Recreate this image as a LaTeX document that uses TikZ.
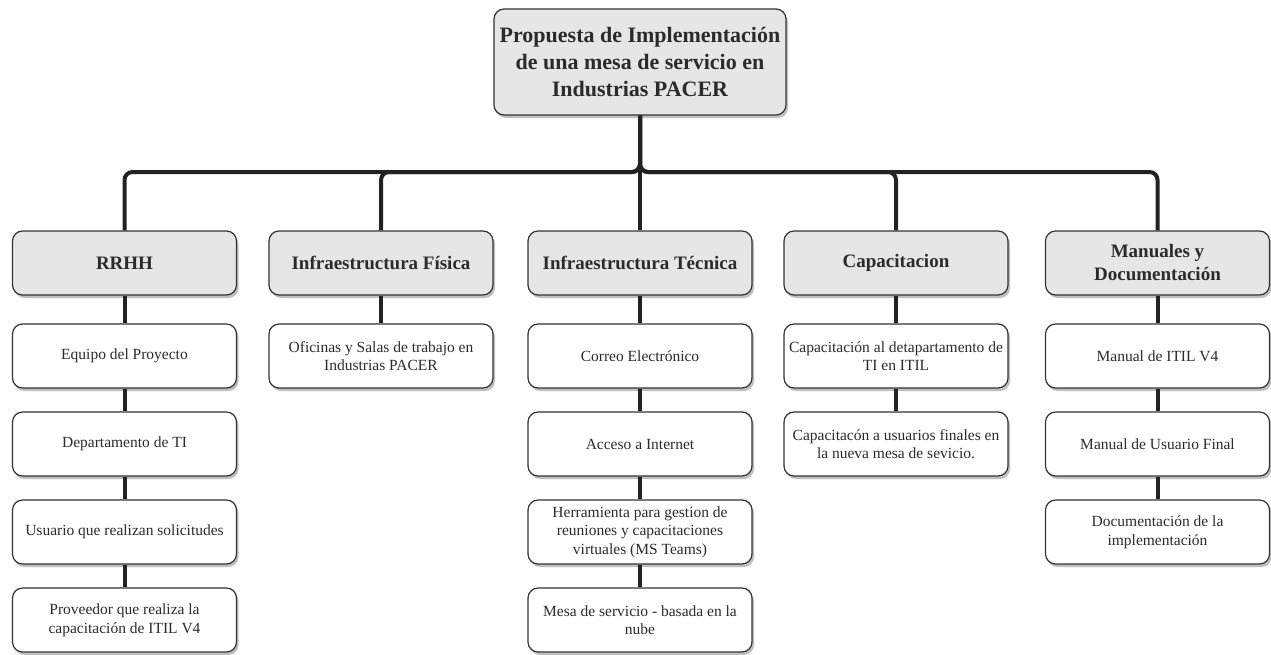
\documentclass[tikz,border=0pt]{standalone}
\usepackage{fontspec}
\setmainfont{Liberation Serif}
\usetikzlibrary{shadows}
\definecolor{boxline}{HTML}{333333}
\definecolor{hdrfill}{HTML}{E6E6E6}
\definecolor{edgecol}{HTML}{222222}
\definecolor{txt}{HTML}{2B2B2B}
\tikzset{
  box/.style={draw=boxline, line width=1.2pt, rounded corners=10pt, fill=white,
    minimum width=224pt, minimum height=64pt, align=center, inner sep=2pt,
    text=txt, font=\fontsize{15.5}{18.6}\selectfont,
    drop shadow={shadow xshift=2pt, shadow yshift=-3pt, opacity=0.25, fill=black}},
  hdr/.style={box, fill=hdrfill, font=\fontsize{19}{23}\selectfont\bfseries},
  rootbox/.style={box, fill=hdrfill, minimum width=292pt, minimum height=106pt,
    font=\fontsize{22}{27}\selectfont\bfseries},
  edge/.style={draw=edgecol, line width=4pt, rounded corners=8pt},
  link/.style={draw=edgecol, line width=4pt},
}
\begin{document}
\begin{tikzpicture}[x=1pt, y=1pt]
\useasboundingbox (0,0) rectangle (1271,-654);
\coordinate (bus) at (0,-172);

\node[rootbox] (root) at (640,-62) {Propuesta de Implementación\\de una mesa de servicio en\\Industrias PACER};

\node[hdr] (h1) at (124.5,-263) {RRHH};
\node[hdr] (h2) at (381,-263) {Infraestructura Física};
\node[hdr] (h3) at (640,-263) {Infraestructura Técnica};
\node[hdr] (h4) at (896,-263) {Capacitacion};
\node[hdr] (h5) at (1157.5,-263) {Manuales y\\Documentación};

\node[box] (a1) at (124.5,-356) {Equipo del Proyecto};
\node[box] (a2) at (124.5,-444) {Departamento de TI};
\node[box] (a3) at (124.5,-532) {Usuario que realizan solicitudes};
\node[box] (a4) at (124.5,-620) {Proveedor que realiza la\\capacitación de ITIL V4};

\node[box] (b1) at (381,-356) {Oficinas y Salas de trabajo en\\Industrias PACER};

\node[box] (c1) at (640,-356) {Correo Electrónico};
\node[box] (c2) at (640,-444) {Acceso a Internet};
\node[box] (c3) at (640,-532) {Herramienta para gestion de\\reuniones y capacitaciones\\virtuales (MS Teams)};
\node[box] (c4) at (640,-620) {Mesa de servicio - basada en la\\nube};

\node[box] (d1) at (896,-356) {Capacitación al detapartamento de\\TI en ITIL};
\node[box] (d2) at (896,-444) {Capacitacón a usuarios finales en\\la nueva mesa de sevicio.};

\node[box] (e1) at (1157.5,-356) {Manual de ITIL V4};
\node[box] (e2) at (1157.5,-444) {Manual de Usuario Final};
\node[box] (e3) at (1157.5,-532) {Documentación de la\\implementación};

\draw[edge] (root.south) -- (root.south |- bus) -| (h1.north);
\draw[edge] (root.south) -- (root.south |- bus) -| (h2.north);
\draw[edge] (root.south) -- (h3.north);
\draw[edge] (root.south) -- (root.south |- bus) -| (h4.north);
\draw[edge] (root.south) -- (root.south |- bus) -| (h5.north);

\draw[link] (h1.south) -- (a1.north);
\draw[link] (a1.south) -- (a2.north);
\draw[link] (a2.south) -- (a3.north);
\draw[link] (a3.south) -- (a4.north);
\draw[link] (h2.south) -- (b1.north);
\draw[link] (h3.south) -- (c1.north);
\draw[link] (c1.south) -- (c2.north);
\draw[link] (c2.south) -- (c3.north);
\draw[link] (c3.south) -- (c4.north);
\draw[link] (h4.south) -- (d1.north);
\draw[link] (d1.south) -- (d2.north);
\draw[link] (h5.south) -- (e1.north);
\draw[link] (e1.south) -- (e2.north);
\draw[link] (e2.south) -- (e3.north);
\end{tikzpicture}
\end{document}
